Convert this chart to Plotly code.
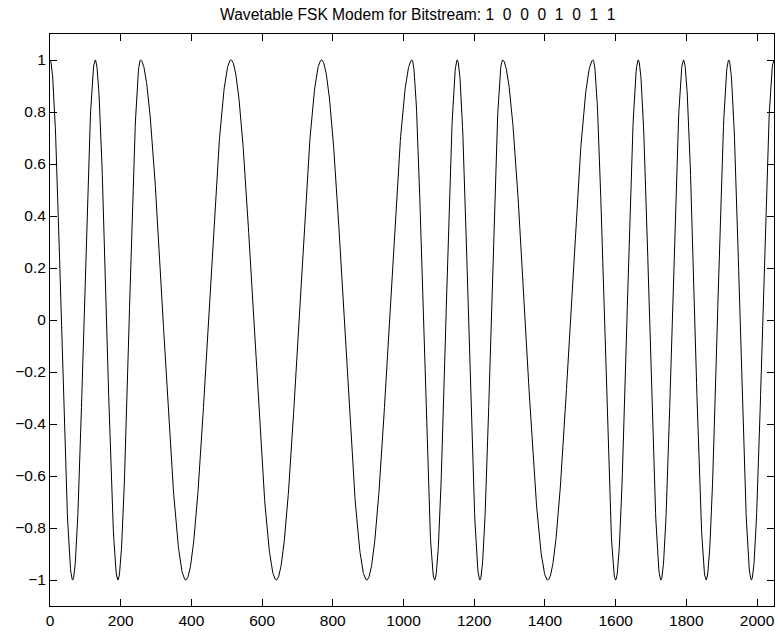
import numpy as np
import plotly.graph_objects as go

# Data: bitstream and wavetable modem parameters
bits = [1, 0, 0, 0, 1, 0, 1, 1]
samples_per_bit = 256
table_len = 256
# cycles of the wavetable per bit for each symbol
cycles_per_bit = {0: 1, 1: 2}

# wavetable (one cosine period)
wavetable = np.cos(2 * np.pi * np.arange(table_len) / table_len)

signal = []
phase = 0
for b in bits:
    step = cycles_per_bit[b] * table_len // samples_per_bit
    for _ in range(samples_per_bit):
        signal.append(wavetable[phase % table_len])
        phase += step
signal.append(wavetable[phase % table_len])
x = np.arange(len(signal))

xticks = list(range(0, 2001, 200))
yticks = [round(-1 + 0.2 * i, 1) for i in range(11)]
yticktext = [("\u2212" + f"{abs(v):g}") if v < 0 else f"{v:g}" for v in yticks]

title = "Wavetable FSK Modem for Bitstream: " + "  ".join(str(b) for b in bits)

FONT = "Liberation Sans, Arial, Helvetica"

fig = go.Figure(go.Scatter(x=x, y=signal, mode="lines",
                           line=dict(color="black", width=1), hoverinfo="skip"))

axis_common = dict(showgrid=False, zeroline=False, showline=True, linecolor="black",
                   linewidth=1, mirror="ticks", ticks="inside", ticklen=7,
                   tickcolor="black", tickwidth=1,
                   tickfont=dict(family=FONT, size=15.5, color="black"))

fig.update_layout(
    width=778, height=633,
    margin=dict(l=50, r=4, t=34, b=27),
    paper_bgcolor="white", plot_bgcolor="white",
    showlegend=False,
    title=dict(text=title, xref="paper", x=0.508, xanchor="center",
               y=1 - 15 / 633, yanchor="middle",
               font=dict(family=FONT, size=15.6, color="black")),
    xaxis=dict(range=[0, 2048], tickvals=xticks, **axis_common),
    yaxis=dict(range=[-1.1, 1.1], tickvals=yticks, ticktext=yticktext, **axis_common),
)

fig.write_html("out.html", config={"displayModeBar": False},
               post_script="document.body.style.margin='0px';")
